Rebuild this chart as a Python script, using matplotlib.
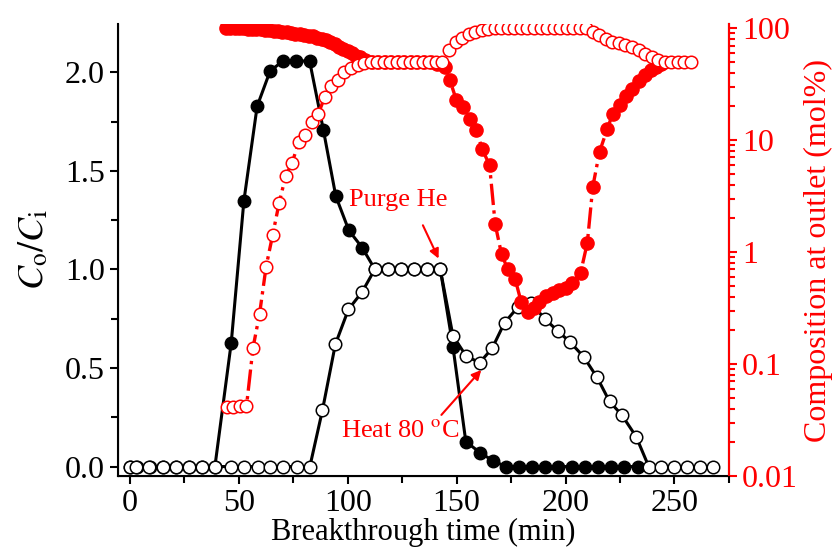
import numpy as np
import matplotlib as mpl

mpl.use('Agg')
import matplotlib.pyplot as plt
from matplotlib.ticker import MultipleLocator, LogLocator, NullFormatter

plt.rcParams['font.family'] = ['Liberation Serif', 'DejaVu Serif']
plt.rcParams['mathtext.fontset'] = 'stix'

# C_o/C_i, filled black series
t_fill = [0, 3, 9, 15, 21, 27, 33, 39, 46.5, 52.3, 58.4, 64.3, 70.3, 76.4, 82.5,
          88.8, 94.5, 100.5, 106.6, 112.5, 118.5, 124.4, 130.4, 136.4, 142.5,
          148.3, 154.2, 160.8, 166.6, 172.5, 178.6, 184.6, 190.7, 196.7, 202.8,
          208.8, 214.9, 221, 227, 233.2]
c_fill = [0, 0, 0, 0, 0, 0, 0, 0, 0.628, 1.347, 1.828, 2.005, 2.059, 2.059, 2.056,
          1.708, 1.372, 1.198, 1.111, 1.0, 1.0, 1.0, 1.0, 1.0, 1.0,
          0.608, 0.127, 0.07, 0.03, 0, 0, 0, 0, 0, 0,
          0, 0, 0, 0, 0]

# C_o/C_i, open black series
t_open = [0, 2.8, 8.9, 15, 21.1, 26.9, 33, 39, 46.6, 52.4, 58.6, 64.5, 70.3, 76.5,
          82.6, 88.4, 94.3, 100.3, 106.6, 112.4, 118.5, 124.3, 130.3, 136.4, 142.5,
          148.3, 154.4, 160.6, 166.3, 172, 178, 184.2, 190.4, 196.4, 202.2, 208.3,
          214.5, 220.2, 225.8, 232.4, 238.2, 243.9, 250, 255.8, 261.9, 267.9]
c_open = [0, 0, 0, 0, 0, 0, 0, 0, 0, 0, 0, 0, 0, 0,
          0, 0.287, 0.62, 0.797, 0.886, 1.0, 1.0, 1.0, 1.0, 1.0, 1.0,
          0.663, 0.56, 0.527, 0.6, 0.73, 0.807, 0.83, 0.75, 0.688, 0.63, 0.557,
          0.452, 0.33, 0.262, 0.152, 0, 0, 0, 0, 0, 0]

# outlet composition (mol%), filled red series
t_rfill = [44, 46, 48, 50, 52, 54, 56, 58, 60, 62, 64, 66, 68, 70, 72, 74, 76, 78,
           80, 82, 84, 86, 88, 90, 92, 94, 96, 98, 100, 102, 104, 105.5,
           108, 111, 114, 117, 120, 123, 126, 129, 132, 135, 138, 141,
           144.5, 146.8, 149.8, 152.9, 156, 159, 161.8, 165.1, 167.7, 170.6,
           173.5, 176.9, 179.6, 182.7, 185.5, 188, 191.2, 194.2, 197.2, 200.3,
           202.9, 206.9, 210, 212.5, 215.6, 219.1, 221.7, 224.8, 227.8, 230.6,
           233.9, 236.7, 239.3, 241.6, 243.9]
m_rfill = [100, 100, 100, 99.8, 99.5, 99.2, 98.8, 98.3, 97.6, 96.8, 96, 95, 94, 93,
           92, 90.8, 89.5, 88.2, 87, 86, 84.5, 82.5, 80.5, 78, 75, 72, 68.5, 65,
           62, 59.5, 57, 55.5,
           52, 50, 49.5, 49.5, 49.5, 49.5, 49.5, 49.5, 49.5, 49.5, 49.5, 48,
           45, 34.8, 23, 19.8, 15.3, 12.3, 8.26, 5.98, 1.77, 0.96,
           0.70, 0.57, 0.36, 0.293, 0.32, 0.36, 0.405, 0.428, 0.458, 0.474,
           0.526, 0.653, 1.21, 3.83, 7.87, 12.5, 17.3, 20.5, 24.7, 28.4,
           33.9, 38, 42.2, 45, 48]

# outlet composition (mol%), open red series
t_ropen = [44.5, 47.5, 50.5, 53.5, 56.5, 59.5, 62.5, 65.5, 68.5, 71.5, 74.5, 77.5,
           80.5, 83.5, 86.5, 89.5, 92.5, 95.5, 98.5, 101.5, 104.5, 107.5,
           110.5, 113.5, 116.5, 119.5, 122.5, 125.5, 128.5, 131.5, 134.5, 137.5,
           140.5, 143.5, 146.5, 149.5, 152.5, 155.5, 158.5, 161.5, 164.5, 167.5,
           170.5, 173.5, 176.5, 179.5, 182.5, 185.5, 188.5, 191.5, 194.5, 197.5,
           200.5, 203.5, 206.5, 209.5, 212.5, 215.5, 218.5, 221.5, 224.5, 227.5,
           230.5, 233.5, 236.5, 239.5, 242.5, 245.5, 248.5, 251.5, 254.5, 257.5]
m_ropen = [0.041, 0.041, 0.042, 0.042, 0.14, 0.28, 0.74, 1.42, 2.75, 4.8, 6.3, 9.7,
           11.2, 14.6, 17.3, 24.4, 30.3, 34.8, 40.7, 44, 46.7, 49,
           49.4, 49.4, 49.4, 49.4, 49.4, 49.4, 49.4, 49.4, 49.4, 49.4,
           49.4, 49.4, 64.5, 75.5, 82.5, 88.3, 92.6, 95.6, 97.8, 99.5,
           100, 100, 100, 100, 100, 100, 100, 100, 100, 100,
           100, 100, 100, 100, 92.6, 86.6, 80.8, 75.5, 73, 70.7,
           68.1, 63.6, 59.3, 55.4, 51.5, 49.9, 49.4, 49.4, 49.4, 49.4]

red = '#ff0000'

fig = plt.figure(figsize=(8.38, 5.57), dpi=100)
ax = fig.add_axes([0.1408, 0.1454, 0.729, 0.8115])

ax.plot(t_fill, c_fill, '-', color='black', lw=2.2, marker='o', ms=9,
        mfc='black', mec='black', zorder=2)
ax.plot(t_open, c_open, '-', color='black', lw=2.2, marker='o', ms=9,
        mfc='white', mec='black', mew=1.1, zorder=3)

ax.set_xlim(-5.5, 275)
ax.set_ylim(-0.048, 2.245)
ax.xaxis.set_major_locator(MultipleLocator(50))
ax.xaxis.set_minor_locator(MultipleLocator(25))
ax.yaxis.set_major_locator(MultipleLocator(0.5))
ax.yaxis.set_minor_locator(MultipleLocator(0.25))
ax.yaxis.set_major_formatter(mpl.ticker.FormatStrFormatter('%.1f'))
ax.tick_params(which='both', direction='out', width=1.5, labelsize=23)
ax.tick_params(which='major', length=6)
ax.tick_params(which='minor', length=5)
ax.spines['top'].set_visible(False)
for s in ['left', 'bottom', 'right']:
    ax.spines[s].set_linewidth(1.5)
ax.set_xlabel('Breakthrough time (min)', fontsize=22, labelpad=0)
ax.set_ylabel(r'$C_\mathrm{o}/C_\mathrm{i}$', fontsize=26, labelpad=10)

ax2 = ax.twinx()
ax2.plot(t_rfill, m_rfill, '-.', color=red, lw=2.4, marker='o', ms=9.5,
         mfc=red, mec=red, zorder=2)
ax2.plot(t_ropen, m_ropen, '-.', color=red, lw=2.4, marker='o', ms=9,
         mfc='white', mec=red, mew=1.1, zorder=3)
ax2.set_yscale('log')
ax2.set_ylim(0.01, 109)
ax2.yaxis.set_minor_locator(LogLocator(base=10, subs=np.arange(2, 10), numticks=10))
ax2.yaxis.set_minor_formatter(NullFormatter())
ax2.set_yticks([0.01, 0.1, 1, 10, 100])
ax2.set_yticklabels(['0.01', '0.1', '1', '10', '100'])
ax2.tick_params(axis='y', which='both', direction='out', width=1.5, colors=red,
                labelsize=23)
ax2.tick_params(axis='y', which='major', length=6)
ax2.tick_params(axis='y', which='minor', length=4)
ax2.spines['top'].set_visible(False)
ax2.spines['right'].set_color(red)
ax2.spines['right'].set_linewidth(1.5)
ax2.set_ylabel('Composition at outlet (mol%)', color=red, fontsize=23, labelpad=4)

arrow = dict(arrowstyle='-|>', color=red, lw=1.5, shrinkA=0, shrinkB=0,
             mutation_scale=14)
ax.text(123.4, 1.35, 'Purge He', color=red, fontsize=19, ha='center', va='center')
ax.annotate('', xy=(141.7, 1.055), xytext=(134.5, 1.224), arrowprops=arrow)
ax.text(123.9, 0.18, r'Heat 80 $^{\mathrm{o}}$C', color=red, fontsize=19,
        ha='center', va='center')
ax.annotate('', xy=(161.3, 0.49), xytext=(143, 0.262), arrowprops=arrow)

plt.savefig('out.png', dpi=100)
